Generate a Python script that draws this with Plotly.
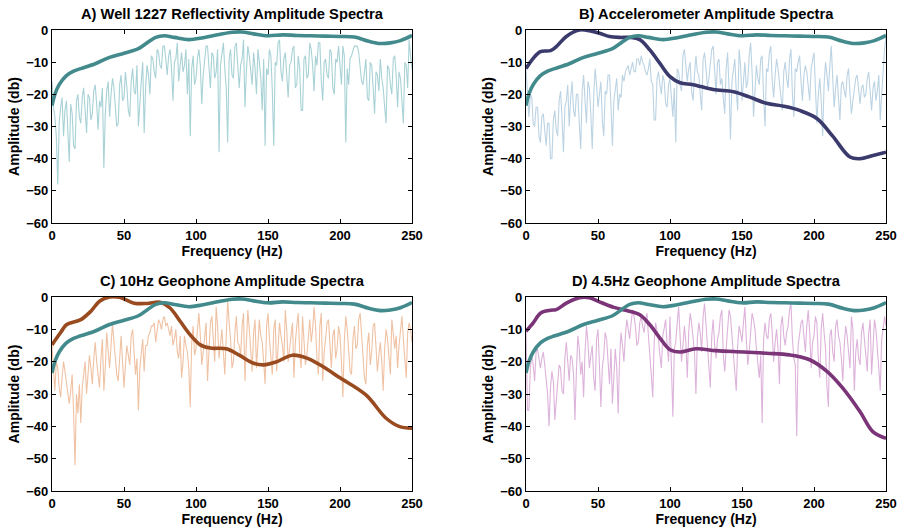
import plotly.graph_objects as go

# ---------------- data ----------------
# noisy spectra sampled every 1 Hz (0..250 Hz)
noisy_freq = list(range(0, 251))

well_spec = [
    -16, -24, -27, -33, -48, -29, -24, -21, -33, -25,
    -22, -30, -41, -23, -26, -36, -37, -22, -20, -27,
    -29, -21, -18, -25, -32, -20, -21, -28, -26, -19,
    -17, -23, -31, -22, -24, -18, -43, -26, -19, -16,
    -27, -20, -15, -18, -23, -30, -29, -17, -14, -22,
    -21, -13, -18, -25, -27, -16, -12, -19, -20, -11,
    -30, -21, -16, -10, -32, -18, -11, -14, -20, -8,
    -9, -13, -15, -6, -7, -11, -12, -5, -5, -9,
    -14, -8, -6, -12, -22, -10, -9, -4, -16, -11,
    -7, -13, -11, -6, -20, -9, -33, -12, -8, -17,
    -15, -9, -6, -11, -23, -14, -10, -5, -5, -12,
    -18, -7, -8, -15, -13, -6, -38, -11, -7, -4,
    -12, -18, -35, -9, -6, -14, -15, -5, -4, -10,
    -18, -11, -9, -3, -24, -13, -5, -8, -13, -17,
    -7, -12, -20, -6, -10, -15, -25, -9, -36, -12,
    -14, -6, -8, -19, -36, -10, -11, -4, -3, -13,
    -16, -9, -7, -14, -21, -11, -10, -6, -5, -18,
    -17, -8, -12, -25, -25, -9, -8, -15, -14, -4,
    -6, -11, -19, -8, -11, -4, -4, -16, -22, -10,
    -9, -14, -15, -6, -7, -18, -20, -9, -10, -5,
    -13, -17, -5, -8, -35, -12, -17, -9, -8, -6,
    -5, -5, -5, -7, -11, -16, -17, -12, -9, -21,
    -22, -10, -11, -18, -26, -13, -14, -19, -9, -15,
    -18, -24, -29, -11, -12, -17, -20, -9, -8, -14,
    -24, -13, -15, -22, -29, -10, -11, -18, -3, -8,
    -12]

accel_spec = [
    -12, -22, -27, -20, -21, -29, -30, -24, -24, -33,
    -35, -27, -26, -31, -36, -29, -29, -40, -40, -28,
    -25, -31, -33, -22, -19, -27, -38, -24, -22, -17,
    -30, -21, -16, -25, -27, -20, -20, -29, -37, -19,
    -14, -22, -29, -16, -18, -26, -37, -21, -12, -17,
    -24, -20, -16, -28, -33, -19, -20, -14, -14, -23,
    -36, -22, -18, -15, -25, -20, -21, -14, -16, -13,
    -12, -11, -14, -12, -10, -13, -13, -9, -9, -11,
    -8, -10, -11, -13, -14, -12, -9, -16, -17, -28,
    -28, -15, -13, -17, -20, -14, -16, -23, -24, -17,
    -15, -21, -27, -18, -35, -12, -13, -17, -19, -8,
    -6, -11, -16, -12, -10, -19, -22, -14, -8, -13,
    -14, -20, -25, -9, -7, -12, -18, -15, -11, -6,
    -5, -14, -20, -10, -9, -17, -15, -21, -26, -12,
    -7, -18, -34, -16, -12, -9, -19, -25, -6, -11,
    -22, -14, -10, -18, -16, -8, -4, -13, -27, -19,
    -11, -15, -17, -9, -8, -21, -30, -12, -13, -7,
    -5, -16, -21, -14, -9, -12, -16, -20, -25, -13,
    -10, -15, -18, -9, -6, -20, -27, -12, -13, -10,
    -8, -16, -22, -14, -11, -13, -17, -22, -12, -9,
    -7, -18, -29, -20, -15, -22, -33, -17, -10, -14,
    -19, -11, -5, -15, -24, -18, -14, -21, -28, -17,
    -16, -19, -21, -14, -12, -20, -26, -22, -18, -15,
    -14, -19, -23, -18, -17, -21, -20, -15, -13, -19,
    -25, -18, -16, -22, -19, -14, -28, -20, -12, -6,
    -2]

geo10_spec = [
    -15, -24, -29, -20, -22, -28, -31, -25, -20, -23,
    -27, -30, -33, -29, -24, -36, -52, -30, -36, -27,
    -39, -28, -24, -20, -30, -25, -18, -22, -27, -19,
    -14, -20, -25, -28, -19, -13, -29, -22, -11, -16,
    -22, -15, -8, -14, -19, -24, -26, -17, -12, -20,
    -28, -21, -15, -18, -21, -12, -10, -17, -24, -19,
    -35, -22, -17, -13, -23, -15, -15, -12, -11, -9,
    -9, -8, -14, -10, -7, -8, -10, -7, -6, -9,
    -8, -10, -12, -9, -15, -13, -10, -17, -19, -12,
    -25, -20, -12, -15, -17, -22, -34, -14, -9, -18,
    -16, -10, -5, -12, -21, -17, -12, -8, -26, -15,
    -8, -6, -14, -20, -3, -9, -19, -13, -10, -17,
    -24, -12, -1, -8, -13, -22, -20, -11, -6, -14,
    -15, -18, -9, -5, -26, -14, -4, -10, -17, -23,
    -11, -7, -22, -16, -7, -12, -14, -20, -27, -9,
    -5, -13, -18, -24, -10, -7, -23, -15, -8, -12,
    -15, -20, -4, -10, -20, -16, -12, -8, -25, -14,
    -9, -5, -17, -22, -6, -12, -21, -18, -11, -7,
    -14, -10, -3, -9, -19, -24, -9, -5, -26, -17,
    -13, -8, -7, -15, -22, -12, -10, -19, -16, -9,
    -12, -20, -31, -14, -6, -10, -18, -23, -24, -13,
    -9, -16, -15, -7, -5, -12, -20, -25, -27, -15,
    -11, -21, -17, -9, -8, -14, -23, -18, -14, -20,
    -29, -16, -10, -13, -19, -24, -7, -11, -16, -12,
    -22, -15, -9, -6, -13, -20, -25, -11, -8, -10,
    -14]

geo45_spec = [
    -10, -35, -35, -22, -18, -21, -26, -17, -16, -20,
    -22, -19, -17, -21, -25, -30, -40, -28, -23, -26,
    -38, -33, -27, -21, -22, -29, -30, -19, -14, -20,
    -26, -18, -19, -24, -38, -23, -12, -16, -24, -20,
    -31, -17, -9, -14, -22, -18, -15, -25, -29, -13,
    -10, -21, -34, -22, -18, -11, -13, -20, -27, -16,
    -33, -25, -16, -22, -36, -19, -11, -15, -20, -12,
    -7, -10, -13, -8, -4, -6, -9, -15, -14, -8,
    -6, -9, -11, -7, -5, -12, -17, -24, -31, -14,
    -8, -11, -13, -18, -22, -12, -9, -7, -15, -20,
    -6, -19, -37, -16, -14, -8, -3, -12, -20, -15,
    -9, -14, -25, -11, -5, -8, -12, -17, -30, -13,
    -8, -11, -17, -6, -2, -9, -14, -22, -28, -12,
    -7, -15, -19, -13, -11, -6, -4, -18, -23, -16,
    -10, -4, -6, -12, -18, -25, -29, -15, -9, -11,
    -14, -8, -3, -13, -21, -17, -12, -5, -7, -10,
    -16, -21, -25, -18, -39, -13, -8, -12, -13, -7,
    -5, -11, -20, -14, -10, -16, -27, -9, -6, -12,
    -15, -11, -9, -4, -2, -13, -19, -21, -43, -15,
    -11, -8, -7, -13, -17, -9, -4, -11, -22, -14,
    -12, -6, -8, -19, -25, -10, -5, -11, -16, -28,
    -34, -12, -10, -17, -20, -9, -7, -12, -14, -19,
    -26, -15, -9, -12, -18, -22, -6, -10, -29, -17,
    -13, -19, -21, -11, -8, -14, -17, -23, -11, -7,
    -24, -16, -7, -10, -15, -22, -29, -13, -10, -6,
    -9]

# smoothed spectra
refl_freq = [0, 2, 5, 10, 15, 20, 30, 40, 50, 60, 66, 72, 78, 85, 95, 105, 115, 125, 132,
             140, 150, 160, 170, 180, 190, 200, 210, 220, 228, 235, 242, 250]
refl_smooth = [-23.5, -20, -17, -14.2, -12.8, -12, -10.5, -8.5, -7.2, -5.8, -4, -2.3, -1.8,
               -2.3, -3, -2.4, -1.5, -0.7, -0.6, -1.2, -1.8, -1.5, -1.7, -1.8, -1.9, -2.0,
               -2.2, -3.5, -4.2, -4.0, -3.3, -1.7]

accel_freq = [0, 5, 10, 17, 21, 28, 37, 44, 51, 58, 65, 72, 79, 86, 93, 100, 107, 116, 130,
              144, 155, 167, 179, 190, 202, 213, 225, 232, 241, 250]
accel_smooth = [-12, -8.8, -6.7, -6.4, -5.2, -2, 0, -0.2, -1, -2, -2.3, -2.3, -3, -6.2, -10.4,
                -14.5, -16.4, -17, -18.5, -19.2, -20.8, -22.8, -23.7, -25, -27.5, -33, -39.5,
                -40, -39, -38]

geo10_freq = [0, 6, 10, 20, 27, 33, 40, 47, 57, 66, 75, 82, 89, 96, 103, 110, 121, 130, 140,
              147, 155, 167, 177, 188, 200, 218, 232, 241, 250]
geo10_smooth = [-14.8, -11, -8.6, -7, -4.4, -1.3, 0, -0.1, -1.9, -2, -1.6, -3.4, -7.5, -11.7,
                -14.8, -15.8, -16, -18, -20.5, -21, -20.2, -18, -18.9, -21.5, -25, -30.3,
                -37.5, -40, -40.6]

geo45_freq = [0, 5, 10, 17, 21, 28, 37, 44, 51, 61, 70, 79, 86, 93, 100, 107, 118, 132, 151,
              167, 183, 197, 209, 220, 232, 241, 250]
geo45_smooth = [-10.6, -8, -5, -4.1, -3.9, -1.9, -0.2, -0.2, -1.5, -3.2, -4.2, -5.5, -8.6,
                -12.7, -16.3, -17, -16, -16.6, -17, -17.4, -17.9, -19.4, -23, -28.2, -35.5,
                -41.7, -43.7]

titles = ["A) Well 1227 Reflectivity Amplitude Spectra",
          "B) Accelerometer Amplitude Spectra",
          "C) 10Hz Geophone Amplitude Spectra",
          "D) 4.5Hz Geophone Amplitude Spectra"]

x_ticks = [0, 50, 100, 150, 200, 250]
y_ticks = [0, -10, -20, -30, -40, -50, -60]

# ---------------- styling ----------------
TEAL = "#428a8b"
light_cols = ["#a9d2d6", "#bcd3e3", "#f0c2a4", "#ddb3db"]
dark_cols = [None, "#3b3a6c", "#9a4a1f", "#7a3477"]

W, H = 899, 529
px_l = [(52, 412), (526, 886), (52, 412), (526, 886)]
px_t = [(30, 223), (30, 223), (297, 491), (297, 491)]

noisy = [well_spec, accel_spec, geo10_spec, geo45_spec]
smooth = [None, (accel_freq, accel_smooth), (geo10_freq, geo10_smooth), (geo45_freq, geo45_smooth)]

FONT = "Liberation Sans, Arial, sans-serif"

fig = go.Figure()
for i in range(4):
    xa = "x" if i == 0 else f"x{i+1}"
    ya = "y" if i == 0 else f"y{i+1}"
    fig.add_trace(go.Scatter(x=noisy_freq, y=noisy[i], mode="lines",
                             line=dict(color=light_cols[i], width=1.1),
                             xaxis=xa, yaxis=ya, showlegend=False, hoverinfo="skip"))
    if smooth[i] is not None:
        fig.add_trace(go.Scatter(x=smooth[i][0], y=smooth[i][1], mode="lines",
                                 line=dict(color=dark_cols[i], width=3.6, shape="spline", smoothing=1.0),
                                 xaxis=xa, yaxis=ya, showlegend=False, hoverinfo="skip"))
    fig.add_trace(go.Scatter(x=refl_freq, y=refl_smooth, mode="lines",
                             line=dict(color=TEAL, width=3.6, shape="spline", smoothing=1.0),
                             xaxis=xa, yaxis=ya, showlegend=False, hoverinfo="skip"))

layout = dict(width=W, height=H, margin=dict(l=0, r=0, t=0, b=0, autoexpand=False),
              paper_bgcolor="white", plot_bgcolor="white", showlegend=False,
              font=dict(family=FONT, size=13, color="black"))

annotations = []
for i in range(4):
    sx = "xaxis" if i == 0 else f"xaxis{i+1}"
    sy = "yaxis" if i == 0 else f"yaxis{i+1}"
    x0, x1 = px_l[i]
    t0, t1 = px_t[i]
    common = dict(showline=True, linecolor="black", linewidth=1.3, mirror="ticks",
                  ticks="inside", ticklen=4, tickwidth=1, tickcolor="black",
                  showgrid=False, zeroline=False, automargin=False,
                  tickfont=dict(family=FONT, size=13, color="black", weight="bold"))
    layout[sx] = dict(domain=[x0 / W, x1 / W], range=[0, 250], tickvals=x_ticks,
                      anchor="y" if i == 0 else f"y{i+1}",
                      title=dict(text="Frequency (Hz)", standoff=1,
                                 font=dict(family=FONT, size=14, color="black", weight="bold")),
                      **common)
    layout[sy] = dict(domain=[1 - t1 / H, 1 - t0 / H], range=[-60, 0], tickvals=y_ticks,
                      anchor="x" if i == 0 else f"x{i+1}",
                      title=dict(text="Amplitude (db)", standoff=3,
                                 font=dict(family=FONT, size=14, color="black", weight="bold")),
                      **common)
    annotations.append(dict(text=titles[i], x=(x0 + x1) / 2 / W, y=1 - (t0 - 16) / H,
                            xref="paper", yref="paper", showarrow=False,
                            xanchor="center", yanchor="middle",
                            font=dict(family=FONT, size=14.7, color="black", weight="bold")))
layout["annotations"] = annotations
fig.update_layout(**layout)
fig.write_html("out.html")
